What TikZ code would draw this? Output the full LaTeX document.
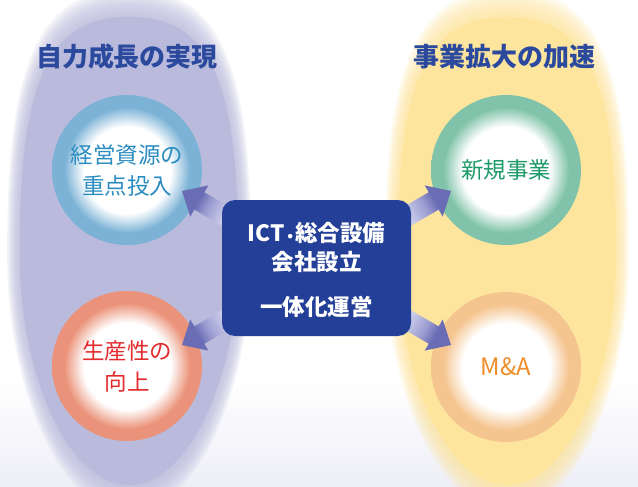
\documentclass[tikz,border=0pt]{standalone}
\usepackage{fontspec}
\setmainfont{Noto Sans CJK JP}
\newfontfamily\dvfont{DejaVu Sans}
\usetikzlibrary{calc}
\definecolor{lav}{HTML}{B9BADC}
\definecolor{yel}{HTML}{FEE59E}
\definecolor{bgbot}{HTML}{EEEEF7}
\definecolor{ringB}{HTML}{7BB2D6}
\definecolor{ringG}{HTML}{80C3AA}
\definecolor{ringR}{HTML}{EB937A}
\definecolor{ringO}{HTML}{F5C590}
\definecolor{txB}{HTML}{2A8CC0}
\definecolor{txG}{HTML}{1E9A6A}
\definecolor{txR}{HTML}{E32B2D}
\definecolor{txO}{HTML}{EE8E2A}
\definecolor{ttl}{HTML}{2B4A9E}
\definecolor{boxc}{HTML}{233F97}
\definecolor{arrD}{HTML}{6A6CB4}
\definecolor{arrM}{HTML}{9C9ED2}
\definecolor{arrL}{HTML}{D6D7EF}
\pgfdeclareradialshading{ringblue}{\pgfpointorigin}{color(0bp)=(white); color(14.5bp)=(white); color(21bp)=(ringB); color(25bp)=(ringB); color(50bp)=(ringB)}
\pgfdeclareradialshading{ringgreen}{\pgfpointorigin}{color(0bp)=(white); color(14.5bp)=(white); color(21bp)=(ringG); color(25bp)=(ringG); color(50bp)=(ringG)}
\pgfdeclareradialshading{ringred}{\pgfpointorigin}{color(0bp)=(white); color(14.5bp)=(white); color(21bp)=(ringR); color(25bp)=(ringR); color(50bp)=(ringR)}
\pgfdeclareradialshading{ringorange}{\pgfpointorigin}{color(0bp)=(white); color(14.5bp)=(white); color(21bp)=(ringO); color(25bp)=(ringO); color(50bp)=(ringO)}
\pgfdeclareverticalshading{arrsh}{100bp}{color(0bp)=(arrL); color(30bp)=(arrL); color(52bp)=(arrM); color(64bp)=(arrD); color(100bp)=(arrD)}
\newcommand\blockarr[6]{%
  \shade[shading=arrsh, shading angle=#6]
    (#1) -- ($(#1)+20*(#2,#3)+18*(#4,#5)$) -- ($(#1)+20*(#2,#3)+10*(#4,#5)$)
    -- ($(#1)+60*(#2,#3)+10*(#4,#5)$) -- ($(#1)+60*(#2,#3)-10*(#4,#5)$)
    -- ($(#1)+20*(#2,#3)-10*(#4,#5)$) -- ($(#1)+20*(#2,#3)-18*(#4,#5)$) -- cycle;}
\tikzset{
  egg/.style={insert path={(0,-248) .. controls (75,-248) and (117,-200) .. (116,0)
     .. controls (118,130) and (65,250) .. (0,250)
     .. controls (-65,250) and (-118,130) .. (-116,0)
     .. controls (-117,-200) and (-75,-248) .. (0,-248) -- cycle}},
  ring/.style={circle, minimum size=150pt, inner sep=0pt, shade, align=center,
     font=\fontsize{22.5}{31}\selectfont},
  ttlstyle/.style={text=ttl, font=\fontsize{26}{30}\selectfont\bfseries},
  boxtext/.style={text=white, align=center, font=\fontsize{22.5}{29}\selectfont\bfseries},
}
\begin{document}
\begin{tikzpicture}[x=1pt, y=-1pt]
\useasboundingbox (0,0) rectangle (638,487);
\fill[white] (0,0) rectangle (638,487);
\shade[top color=white, bottom color=bgbot] (0,380) rectangle (638,487);
% soft eggs
\foreach \s in {1.05,1.0375,1.025,1.0125,1.0,0.9875,0.975,0.9625,0.95}{
  \begin{scope}[shift={(129,250)}, scale=\s]
    \fill[lav, opacity=0.15, egg];
  \end{scope}
  \begin{scope}[shift={(507,250)}, scale=\s]
    \fill[yel, opacity=0.15, egg];
  \end{scope}
}
\begin{scope}[shift={(129,250)}, scale=0.94]
  \fill[lav, egg];
\end{scope}
\begin{scope}[shift={(507,250)}, scale=0.94]
  \fill[yel, egg];
\end{scope}
% titles
\node[ttlstyle] (tl) at (127,57) {自力成長の実現};
\node[ttlstyle] (tr) at (504.5,57) {事業拡大の加速};
% circles
\node[ring, shading=ringblue, text=txB] (c1) at (127,170) {経営資源の\\重点投入};
\node[ring, shading=ringred, text=txR] (c2) at (127,366) {生産性の\\向上};
\node[ring, shading=ringgreen, text=txG] (c3) at (506,170) {新規事業};
\node[ring, shading=ringorange, text=txO, font=\fontsize{24}{30}\selectfont] (c4) at (506,367) {M\&A};
% arrows
\coordinate (aTL) at (182,191);
\coordinate (aTR) at (451,191);
\coordinate (aBL) at (182,345);
\coordinate (aBR) at (451,345);
\blockarr{aTL}{0.866}{0.5}{-0.5}{0.866}{60}
\blockarr{aTR}{-0.866}{0.5}{0.5}{0.866}{-60}
\blockarr{aBL}{0.866}{-0.5}{0.5}{0.866}{120}
\blockarr{aBR}{-0.866}{-0.5}{-0.5}{0.866}{-120}
% center box
\node[fill=boxc, rounded corners=13pt, minimum width=189pt, minimum height=136pt, inner sep=0pt] (box) at (316.5,268) {};
\node[boxtext] (bt1) at (316.5,247.5) {ICT{\kern0.05em\dvfont\fontsize{13}{13}\selectfont •\kern0.05em}総合設備\\会社設立};
\node[boxtext] (bt2) at (316.5,307) {一体化運営};
\end{tikzpicture}
\end{document}
